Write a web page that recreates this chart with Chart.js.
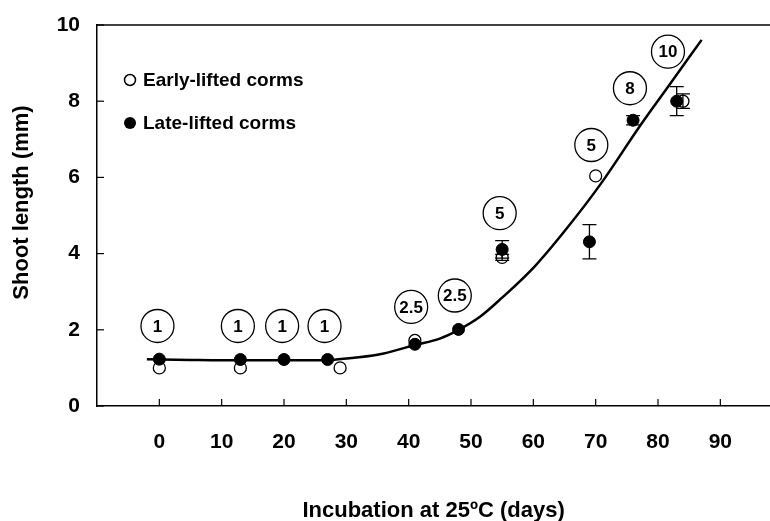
<!DOCTYPE html>
<html>
<head>
<meta charset="utf-8">
<script src="https://cdn.jsdelivr.net/npm/chart.js@4"></script>
<style>
  html, body { margin: 0; padding: 0; background: #fff; overflow: hidden; }
  /* plot frame runs off the right edge of the picture */
  #wrap { position: relative; width: 788px; height: 521px; }
</style>
</head>
<body>
<div id="wrap"><canvas id="shootChart"></canvas></div>
<script>
// days of incubation at 25 C
const xTicks = [0, 10, 20, 30, 40, 50, 60, 70, 80, 90];
const yTicks = [0, 2, 4, 6, 8, 10];

// early-lifted corms (open circles)
const earlyX = [0, 13, 29, 41, 55, 70, 84];
const earlyY = [1.0, 1.0, 1.0, 1.72, 3.9, 6.04, 8.0];
const earlyErr = [0, 0, 0, 0, 0.08, 0, 0.19];

// late-lifted corms (filled circles)
const lateX = [0, 13, 20, 27, 41, 48, 55, 69, 76, 83];
const lateY = [1.23, 1.22, 1.22, 1.22, 1.62, 2.01, 4.11, 4.31, 7.5, 8.0];
const lateErr = [0, 0, 0, 0, 0, 0, 0.23, 0.45, 0.12, 0.38];

// fitted curve
const fitX = [-2, 5, 10, 20, 27, 32, 36, 41, 45, 48, 51.5, 54.9, 60.2, 65.6, 70.9, 77.1, 81.7, 87];
const fitY = [1.23, 1.21, 1.2, 1.2, 1.21, 1.28, 1.38, 1.6, 1.77, 2.0, 2.35, 2.83, 3.66, 4.71, 5.85, 7.35, 8.4, 9.61];

// circled numbers above the points
const noteText = ["1", "1", "1", "1", "2.5", "2.5", "5", "5", "8", "10"];
const noteX = [-0.3, 12.6, 19.7, 26.5, 40.4, 47.4, 54.6, 69.3, 75.5, 81.6];
const noteY = [2.1, 2.1, 2.1, 2.1, 2.6, 2.9, 5.06, 6.85, 8.34, 9.3];

const FONT = "'Liberation Sans', Arial, sans-serif";

function pts(xs, ys) {
  return xs.map((x, i) => ({ x: x, y: ys[i] }));
}

const extras = {
  id: "extras",
  afterDatasetsDraw(chart) {
    const ctx = chart.ctx;
    const xs = chart.scales.x, ys = chart.scales.y;
    const a = chart.chartArea;
    ctx.save();
    ctx.strokeStyle = "#000";
    ctx.lineWidth = 1.5;

    // top frame line
    ctx.beginPath();
    ctx.moveTo(a.left, a.top);
    ctx.lineTo(a.right, a.top);
    ctx.stroke();

    // inward tick marks
    ctx.lineWidth = 1.2;
    xTicks.forEach((t) => {
      const px = xs.getPixelForValue(t);
      ctx.beginPath();
      ctx.moveTo(px, a.bottom);
      ctx.lineTo(px, a.bottom - 7);
      ctx.stroke();
    });
    yTicks.forEach((t) => {
      const py = ys.getPixelForValue(t);
      ctx.beginPath();
      ctx.moveTo(a.left, py);
      ctx.lineTo(a.left + 7, py);
      ctx.stroke();
    });

    // error bars
    function bars(xv, yv, ev) {
      for (let i = 0; i < xv.length; i++) {
        if (!ev[i]) continue;
        const px = xs.getPixelForValue(xv[i]);
        const top = ys.getPixelForValue(yv[i] + ev[i]);
        const bot = ys.getPixelForValue(yv[i] - ev[i]);
        ctx.beginPath();
        ctx.moveTo(px, top); ctx.lineTo(px, bot);
        ctx.moveTo(px - 7, top); ctx.lineTo(px + 7, top);
        ctx.moveTo(px - 7, bot); ctx.lineTo(px + 7, bot);
        ctx.stroke();
      }
    }
    ctx.lineWidth = 1.3;
    bars(earlyX, earlyY, earlyErr);
    bars(lateX, lateY, lateErr);

    // numbers inside circles
    ctx.fillStyle = "#000";
    ctx.font = "bold 17px " + FONT;
    ctx.textAlign = "center";
    ctx.textBaseline = "middle";
    for (let i = 0; i < noteText.length; i++) {
      ctx.fillText(noteText[i], xs.getPixelForValue(noteX[i]), ys.getPixelForValue(noteY[i]) + 1);
    }

    // legend
    const lx = a.left + 33, ly1 = a.top + 55, ly2 = a.top + 98;
    ctx.lineWidth = 1.5;
    ctx.beginPath();
    ctx.arc(lx, ly1, 5.5, 0, Math.PI * 2);
    ctx.fillStyle = "#fff";
    ctx.fill();
    ctx.stroke();
    ctx.beginPath();
    ctx.arc(lx, ly2, 6, 0, Math.PI * 2);
    ctx.fillStyle = "#000";
    ctx.fill();
    ctx.font = "bold 19px " + FONT;
    ctx.textAlign = "left";
    ctx.fillText(chart.data.datasets[1].label, lx + 13, ly1 + 1);
    ctx.fillText(chart.data.datasets[0].label, lx + 13, ly2 + 1);

    // y axis title
    ctx.save();
    ctx.translate(22, (a.top + a.bottom) / 2 - 13);
    ctx.rotate(-Math.PI / 2);
    ctx.textAlign = "center";
    ctx.font = "bold 22px " + FONT;
    ctx.fillText("Shoot length (mm)", 0, 0);
    ctx.restore();

    ctx.restore();
  }
};

const chart = new Chart(document.getElementById("shootChart"), {
  type: "scatter",
  data: {
    datasets: [
      {
        label: "Late-lifted corms",
        data: pts(lateX, lateY),
        pointRadius: 6,
        pointBackgroundColor: "#000",
        pointBorderColor: "#000",
        pointBorderWidth: 1
      },
      {
        label: "Early-lifted corms",
        data: pts(earlyX, earlyY),
        pointRadius: 6,
        pointBackgroundColor: "#fff",
        pointBorderColor: "#000",
        pointBorderWidth: 1.3
      },
      {
        label: "fit",
        data: pts(fitX, fitY),
        showLine: true,
        borderColor: "#000",
        borderWidth: 2.5,
        pointRadius: 0,
        cubicInterpolationMode: "monotone"
      },
      {
        label: "notes",
        data: pts(noteX, noteY),
        pointRadius: 16.5,
        pointBackgroundColor: "#fff",
        pointBorderColor: "#000",
        pointBorderWidth: 1.3
      }
    ]
  },
  options: {
    responsive: true,
    maintainAspectRatio: false,
    animation: false,
    layout: { padding: { top: 25, right: 0, bottom: 0, left: 0 } },
    plugins: {
      legend: { display: false },
      tooltip: { enabled: false }
    },
    scales: {
      x: {
        type: "linear",
        min: -10,
        max: 98,
        afterBuildTicks: (s) => { s.ticks = xTicks.map((v) => ({ value: v })); },
        afterFit: (s) => {
          s.height = 115;
          s.paddingLeft = 0; s.paddingRight = 0;
        },
        grid: { drawOnChartArea: false, drawTicks: false },
        border: { color: "#000", width: 1.5 },
        ticks: {
          color: "#000",
          padding: 24,
          font: { family: FONT, size: 21, weight: "bold" }
        },
        title: {
          display: true,
          text: "Incubation at 25ºC (days)",
          color: "#000",
          padding: { top: 0, bottom: -3 },
          font: { family: FONT, size: 22, weight: "bold" }
        }
      },
      y: {
        min: 0,
        max: 10,
        afterBuildTicks: (s) => { s.ticks = yTicks.map((v) => ({ value: v })); },
        afterFit: (s) => {
          s.width = 97;
          s.paddingTop = 0; s.paddingBottom = 0;
        },
        grid: { drawOnChartArea: false, drawTicks: false },
        border: { color: "#000", width: 1.5 },
        ticks: {
          color: "#000",
          padding: 17,
          font: { family: FONT, size: 21, weight: "bold" }
        }
      }
    }
  },
  plugins: [extras]
});
</script>
</body>
</html>
